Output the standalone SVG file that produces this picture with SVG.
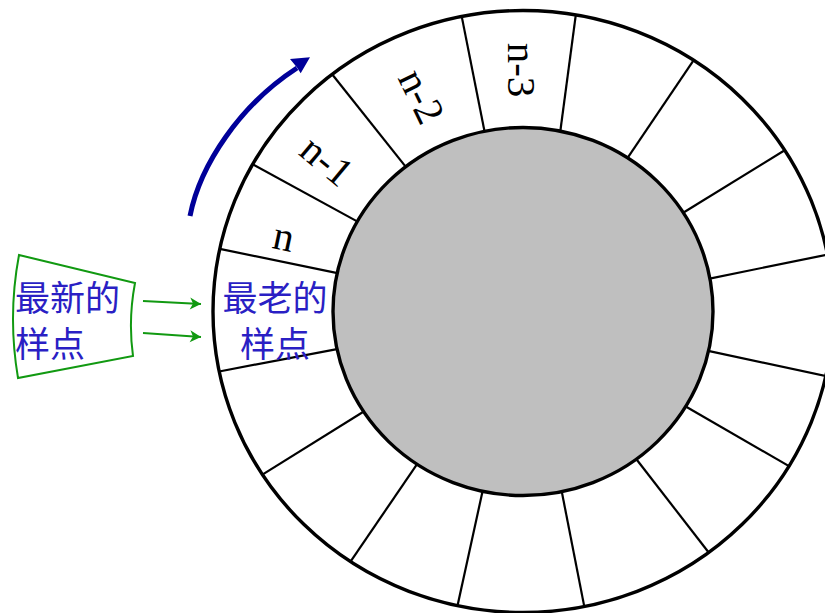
<svg xmlns="http://www.w3.org/2000/svg" width="825" height="613" viewBox="0 0 825 613">
  <style>
    .spoke { stroke: #000; stroke-width: 2.2; fill: none; }
    .rim { stroke: #000; stroke-width: 3.4; fill: none; }
    .hub { stroke: #000; stroke-width: 3.4; fill: #bfbfbf; }
    .idx { font-family: "Liberation Serif", "DejaVu Serif", serif; font-size: 41px; fill: #000; }
    .cjk { font-family: "Noto Sans CJK SC", "Noto Sans CJK JP", sans-serif; font-size: 35px; fill: #2a1fc4; }
    .feed { stroke: #119911; stroke-width: 2; fill: none; }
  </style>
  <defs>
    <marker id="greenHead" markerUnits="userSpaceOnUse" markerWidth="14" markerHeight="14" viewBox="-12 -7 14 14" refX="0" refY="0" orient="auto">
      <path d="M0,0 L-11,-6 L-8,0 L-11,6 Z" fill="#119911"/>
    </marker>
  </defs>

  <!-- ring background -->
  <ellipse cx="523" cy="311.5" rx="310" ry="301" fill="#fff"/>

  <!-- connectors: spokes dividing the ring into slots -->
  <g id="connectors">
    <g id="spokes">
      <line class="spoke" x1="625.4" y1="161.2" x2="693.7" y2="60.2"/>
      <line class="spoke" x1="679.9" y1="214.8" x2="784.7" y2="150.2"/>
      <line class="spoke" x1="706.0" y1="279.3" x2="827.4" y2="254.6"/>
      <line class="spoke" x1="704.7" y1="350.1" x2="825.8" y2="376.1"/>
      <line class="spoke" x1="682.3" y1="404.5" x2="789.0" y2="466.1"/>
      <line class="spoke" x1="633.9" y1="456.0" x2="708.7" y2="552.5"/>
      <line class="spoke" x1="561.0" y1="487.7" x2="584.3" y2="606.6"/>
      <line class="spoke" x1="483.4" y1="487.4" x2="457.5" y2="605.7"/>
      <line class="spoke" x1="419.3" y1="460.9" x2="350.5" y2="561.6"/>
      <line class="spoke" x1="367.0" y1="409.5" x2="262.4" y2="474.6"/>
      <line class="spoke" x1="340.9" y1="348.3" x2="219.2" y2="371.5"/>
      <line class="spoke" x1="341.1" y1="273.8" x2="219.8" y2="248.9"/>
      <line class="spoke" x1="360.8" y1="223.4" x2="252.6" y2="164.2"/>
      <line class="spoke" x1="408.2" y1="169.9" x2="332.1" y2="74.3"/>
      <line class="spoke" x1="485.3" y1="135.2" x2="461.7" y2="16.4"/>
      <line class="spoke" x1="559.8" y1="135.0" x2="575.8" y2="14.9"/>
    </g>
    <!-- new samples pushed into the oldest slot -->
    <line class="feed" x1="143" y1="301" x2="201" y2="304" marker-end="url(#greenHead)"/>
    <line class="feed" x1="143" y1="333" x2="201" y2="337" marker-end="url(#greenHead)"/>
    <!-- direction of travel -->
    <g id="rotation">
      <path d="M190,216 C200,165 240,105 297,68" fill="none" stroke="#000099" stroke-width="5"/>
      <path d="M310,57.3 L290,59 L297,67.5 L300.7,73.3 Z" fill="#000099"/>
    </g>
  </g>

  <g id="ring">
    <ellipse class="rim" cx="523" cy="311.5" rx="310" ry="301"/>
  </g>
  <g id="hub">
    <ellipse class="hub" cx="523" cy="311.5" rx="190" ry="184"/>
  </g>

  <!-- slot labels -->
  <g id="slot-n">
    <text class="idx" text-anchor="middle" transform="translate(283,241) rotate(12)" x="0" y="9">n</text>
  </g>
  <g id="slot-n-1">
    <text class="idx" text-anchor="middle" transform="translate(326,162) rotate(40)" x="0" y="12">n-1</text>
  </g>
  <g id="slot-n-2">
    <text class="idx" text-anchor="middle" transform="translate(420,97) rotate(64)" x="0" y="12">n-2</text>
  </g>
  <g id="slot-n-3">
    <text class="idx" text-anchor="middle" transform="translate(520,70) rotate(90)" x="0" y="12">n-3</text>
  </g>

  <!-- oldest sample slot -->
  <g id="oldest">
    <text class="cjk" text-anchor="middle" x="275" y="311">最老的</text>
    <text class="cjk" text-anchor="middle" x="275" y="357">样点</text>
  </g>

  <!-- newest sample box -->
  <g id="newest">
    <path d="M19,255 L135,283 Q128,320 133,356 L18,378 Q7.5,316 19,255 Z" fill="none" stroke="#119911" stroke-width="2"/>
    <text class="cjk" x="15" y="311">最新的</text>
    <text class="cjk" x="15" y="357">样点</text>
  </g>
</svg>
